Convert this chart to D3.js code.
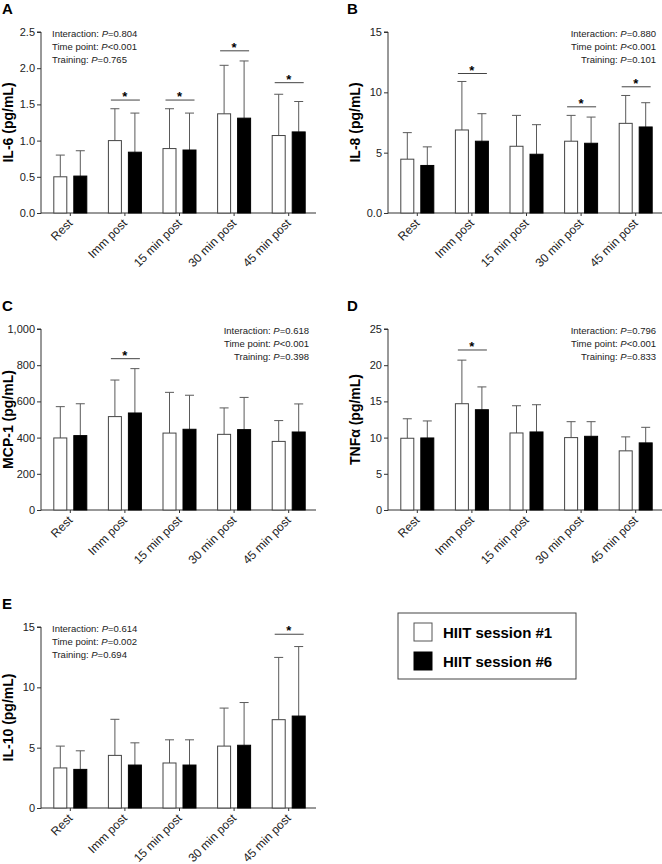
<!DOCTYPE html>
<html>
<head>
<meta charset="utf-8">
<script src="https://cdn.jsdelivr.net/npm/d3@7"></script>
<style>
  body { margin: 0; background: #fff; }
  text { font-family: "Liberation Sans", Arial, sans-serif; }
</style>
</head>
<body>
<script>
// time points and the two sessions
var categories = ["Rest", "Imm post", "15 min post", "30 min post", "45 min post"];
var sessions = ["HIIT session #1", "HIIT session #6"];

// IL-6
var il6Mean1 = [0.50, 1.00, 0.89, 1.37, 1.07];
var il6Sd1 = [0.30, 0.44, 0.55, 0.67, 0.57];
var il6Mean6 = [0.51, 0.84, 0.87, 1.31, 1.12];
var il6Sd6 = [0.35, 0.54, 0.51, 0.79, 0.42];
var il6Ticks = [0, 0.5, 1.0, 1.5, 2.0, 2.5];
var il6TickLabels = ["0.0", "0.5", "1.0", "1.5", "2.0", "2.5"];
var il6Sig = [["Imm post", 1.56], ["15 min post", 1.56], ["30 min post", 2.24], ["45 min post", 1.80]];
var il6Stats = ["0.804", "<0.001", "0.765"];

// IL-8
var il8Mean1 = [4.46, 6.88, 5.53, 5.95, 7.43];
var il8Sd1 = [2.20, 4.02, 2.56, 2.14, 2.31];
var il8Mean6 = [3.94, 5.95, 4.87, 5.78, 7.13];
var il8Sd6 = [1.54, 2.28, 2.45, 2.17, 2.01];
var il8Ticks = [0, 5, 10, 15];
var il8TickLabels = ["0.0", "5", "10", "15"];
var il8Sig = [["Imm post", 11.56], ["30 min post", 8.8], ["45 min post", 10.46]];
var il8Stats = ["0.880", "<0.001", "0.101"];

// MCP-1
var mcpMean1 = [398, 516, 425, 418, 379];
var mcpSd1 = [173, 202, 225, 146, 115];
var mcpMean6 = [411, 536, 446, 444, 431];
var mcpSd6 = [176, 245, 188, 178, 155];
var mcpTicks = [0, 200, 400, 600, 800, 1000];
var mcpTickLabels = ["0", "200", "400", "600", "800", "1,000"];
var mcpSig = [["Imm post", 836]];
var mcpStats = ["0.618", "<0.001", "0.398"];

// TNFa
var tnfMean1 = [9.91, 14.68, 10.64, 10.00, 8.17];
var tnfSd1 = [2.69, 6.02, 3.76, 2.20, 1.93];
var tnfMean6 = [9.95, 13.85, 10.78, 10.18, 9.27];
var tnfSd6 = [2.35, 3.15, 3.76, 2.02, 2.15];
var tnfTicks = [0, 5, 10, 15, 20, 25];
var tnfTickLabels = ["0", "5", "10", "15", "20", "25"];
var tnfSig = [["Imm post", 22.1]];
var tnfStats = ["0.796", "<0.001", "0.833"];

// IL-10
var il10Mean1 = [3.32, 4.36, 3.73, 5.13, 7.32];
var il10Sd1 = [1.81, 2.99, 1.92, 3.15, 5.16];
var il10Mean6 = [3.20, 3.56, 3.56, 5.20, 7.62];
var il10Sd6 = [1.54, 1.84, 2.09, 3.54, 5.76];
var il10Ticks = [0, 5, 10, 15];
var il10TickLabels = ["0", "5", "10", "15"];
var il10Sig = [["45 min post", 14.4]];
var il10Stats = ["0.614", "0.002", "0.694"];

var statNames = ["Interaction: ", "Time point: ", "Training: "];

var W = 662, H = 864;
var svg = d3.select("body").append("svg")
    .attr("width", W)
    .attr("height", H)
    .style("background", "#fff");

var panels = [
    {letter: "A", label: "IL-6 (pg/mL)", x0: 0, y0: 0, max: 2.5, ticks: il6Ticks, tl: il6TickLabels,
     m1: il6Mean1, s1: il6Sd1, m6: il6Mean6, s6: il6Sd6, sig: il6Sig, stats: il6Stats, statsRight: false},
    {letter: "B", label: "IL-8 (pg/mL)", x0: 347, y0: 0, max: 15, ticks: il8Ticks, tl: il8TickLabels,
     m1: il8Mean1, s1: il8Sd1, m6: il8Mean6, s6: il8Sd6, sig: il8Sig, stats: il8Stats, statsRight: true},
    {letter: "C", label: "MCP-1 (pg/mL)", x0: 0, y0: 297, max: 1000, ticks: mcpTicks, tl: mcpTickLabels,
     m1: mcpMean1, s1: mcpSd1, m6: mcpMean6, s6: mcpSd6, sig: mcpSig, stats: mcpStats, statsRight: true},
    {letter: "D", label: "TNFα (pg/mL)", x0: 347, y0: 297, max: 25, ticks: tnfTicks, tl: tnfTickLabels,
     m1: tnfMean1, s1: tnfSd1, m6: tnfMean6, s6: tnfSd6, sig: tnfSig, stats: tnfStats, statsRight: true},
    {letter: "E", label: "IL-10 (pg/mL)", x0: 0, y0: 595, max: 15, ticks: il10Ticks, tl: il10TickLabels,
     m1: il10Mean1, s1: il10Sd1, m6: il10Mean6, s6: il10Sd6, sig: il10Sig, stats: il10Stats, statsRight: false}
];

var barW = 14, halfGap = 3;

panels.forEach(function(p) {
    var g = svg.append("g").attr("transform", "translate(" + p.x0 + "," + p.y0 + ")");
    var axisX = 41, top = 32, bottom = 213, right = 316;

    var x = d3.scaleBand().domain(categories).range([43, right]);
    var sub = d3.scaleOrdinal().domain(sessions).range([-halfGap - barW, halfGap]);
    var y = d3.scaleLinear().domain([0, p.max]).range([bottom, top]);

    // panel letter
    g.append("text")
        .attr("x", p.x0 == 0 ? 2 : 0)
        .attr("y", 14)
        .style("font-size", "15px")
        .style("font-weight", "bold")
        .text(p.letter);

    // y axis
    var yAxis = d3.axisLeft(y).tickValues(p.ticks).tickSize(4).tickPadding(2)
        .tickFormat(function(d, i) { return p.tl[i]; });
    var ya = g.append("g").attr("transform", "translate(" + axisX + ",0)").call(yAxis);
    ya.select(".domain").attr("d", "M-4," + top + "H0V" + (bottom + 0.5));
    ya.selectAll("line, path").attr("stroke", "#333");
    ya.selectAll("text").style("font-size", "11px").style("font-family", "Liberation Sans, Arial").attr("fill", "#222");

    // x axis
    var xAxis = d3.axisBottom(x).tickSize(3).tickFormat("");
    var xa = g.append("g").attr("transform", "translate(0," + bottom + ")").call(xAxis);
    xa.select(".domain").attr("d", "M" + axisX + ",0H" + right);
    xa.selectAll("line, path").attr("stroke", "#333");

    // rotated category labels
    g.selectAll(".xl").data(categories).enter().append("text")
        .attr("class", "xl")
        .attr("text-anchor", "end")
        .attr("transform", function(d) {
            return "translate(" + (x(d) + x.bandwidth() / 2 + 3) + "," + (bottom + 11) + ") rotate(-45)";
        })
        .style("font-size", "12px")
        .attr("fill", "#222")
        .text(function(d) { return d; });

    // y label
    g.append("text")
        .attr("transform", "translate(13," + ((top + bottom) / 2) + ") rotate(-90)")
        .attr("text-anchor", "middle")
        .style("font-size", "14px")
        .style("font-weight", "bold")
        .text(p.label);

    // bars
    var rows = [];
    categories.forEach(function(c, i) {
        rows.push({cat: c, s: sessions[0], m: p.m1[i], sd: p.s1[i]});
        rows.push({cat: c, s: sessions[1], m: p.m6[i], sd: p.s6[i]});
    });
    var cx = function(d) { return x(d.cat) + x.bandwidth() / 2 + sub(d.s); };

    // error bars (upper only)
    g.selectAll(".err").data(rows).enter().append("path")
        .attr("class", "err")
        .attr("fill", "none")
        .attr("stroke", "#5a5a5a")
        .attr("stroke-width", 1)
        .attr("d", function(d) {
            var xc = cx(d) + barW / 2;
            var yt = y(d.m + d.sd);
            return "M" + xc + "," + y(d.m) + "V" + yt + "M" + (xc - 4.5) + "," + yt + "H" + (xc + 4.5);
        });

    g.selectAll(".bar").data(rows).enter().append("rect")
        .attr("class", "bar")
        .attr("x", function(d) { return cx(d) + 0.5; })
        .attr("y", function(d) { return y(d.m); })
        .attr("width", barW - 1)
        .attr("height", function(d) { return bottom - y(d.m); })
        .attr("fill", function(d) { return d.s == sessions[0] ? "#fff" : "#000"; })
        .attr("stroke", function(d) { return d.s == sessions[0] ? "#444" : "#000"; })
        .attr("stroke-width", 1);

    // significance markers
    var sg = g.selectAll(".sig").data(p.sig).enter().append("g").attr("class", "sig");
    sg.append("line")
        .attr("x1", function(d) { return x(d[0]) + x.bandwidth() / 2 - 14; })
        .attr("x2", function(d) { return x(d[0]) + x.bandwidth() / 2 + 15; })
        .attr("y1", function(d) { return y(d[1]); })
        .attr("y2", function(d) { return y(d[1]); })
        .attr("stroke", "#444");
    sg.append("text")
        .attr("x", function(d) { return x(d[0]) + x.bandwidth() / 2; })
        .attr("y", function(d) { return y(d[1]) + 1; })
        .attr("text-anchor", "middle")
        .style("font-size", "13px")
        .style("font-weight", "bold")
        .text("*");

    // statistics text
    var st = g.selectAll(".stat").data(p.stats).enter().append("text")
        .attr("class", "stat")
        .attr("x", p.statsRight ? 309 : 52)
        .attr("y", function(d, i) { return 37 + i * 13; })
        .attr("text-anchor", p.statsRight ? "end" : "start")
        .style("font-size", "9.5px")
        .attr("fill", "#222");
    st.append("tspan").text(function(d, i) { return statNames[i]; });
    st.append("tspan").style("font-style", "italic").text("P");
    st.append("tspan").text(function(d) { return d.charAt(0) == "<" ? d : "=" + d; });
});

// legend
var lg = svg.append("g").attr("transform", "translate(398,613)");
lg.append("rect").attr("width", 178).attr("height", 66)
    .attr("fill", "#fff").attr("stroke", "#444").attr("stroke-width", 1);
var li = lg.selectAll(".li").data(sessions).enter().append("g")
    .attr("transform", function(d, i) { return "translate(16," + (10 + i * 29) + ")"; });
li.append("rect").attr("width", 18).attr("height", 18)
    .attr("fill", function(d, i) { return i == 0 ? "#fff" : "#000"; })
    .attr("stroke", function(d, i) { return i == 0 ? "#555" : "#000"; });
li.append("text").attr("x", 29).attr("y", 15)
    .style("font-size", "15px")
    .style("font-weight", "bold")
    .text(function(d) { return d; });
</script>
</body>
</html>
